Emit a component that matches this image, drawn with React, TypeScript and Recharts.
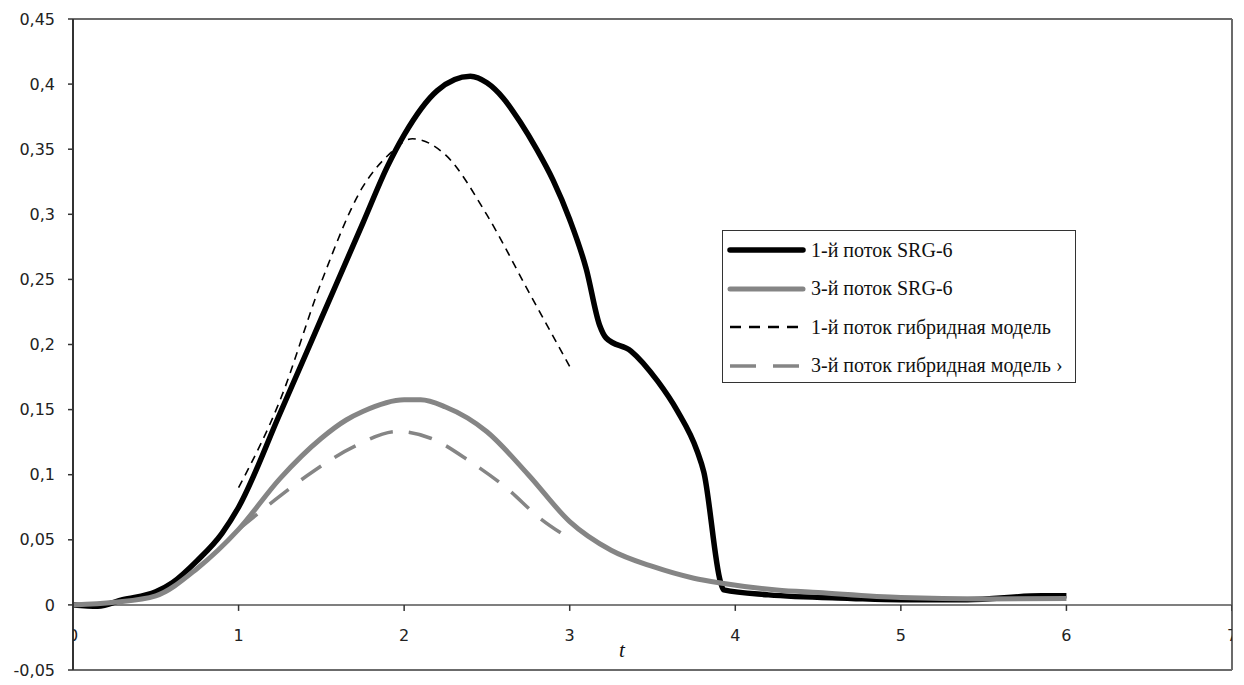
import React from "react";
import {
  ComposedChart,
  Line,
  XAxis,
  YAxis,
  ReferenceLine,
  Scatter,
} from "recharts";

// 1-й поток SRG-6
const tSRG1 = [0, 0.15, 0.3, 0.5, 0.6, 0.75, 0.9, 1.0, 1.25, 1.5, 1.75, 1.9, 2.0, 2.2, 2.4, 2.5, 2.6, 2.7, 2.8, 2.9, 3.0, 3.1, 3.18, 3.22, 3.37, 3.53, 3.65, 3.77, 3.81, 3.91, 3.93, 4.2, 4.7, 5.0, 5.4, 5.85, 6.0];
const vSRG1 = [0, -0.001, 0.004, 0.01, 0.017, 0.034, 0.055, 0.075, 0.147, 0.22, 0.293, 0.337, 0.361, 0.395, 0.406, 0.401, 0.389, 0.371, 0.35, 0.326, 0.296, 0.258, 0.215, 0.205, 0.195, 0.172, 0.149, 0.118, 0.102, 0.018, 0.0115, 0.0077, 0.005, 0.004, 0.004, 0.007, 0.007];

// 3-й поток SRG-6
const tSRG3 = [0, 0.25, 0.5, 0.75, 1.0, 1.25, 1.5, 1.65, 1.75, 2.0, 2.1, 2.25, 2.5, 2.75, 3.0, 3.25, 3.5, 3.75, 3.92, 4.25, 4.5, 5.0, 5.5, 6.0];
const vSRG3 = [0, 0.002, 0.007, 0.028, 0.058, 0.097, 0.128, 0.142, 0.1485, 0.1575, 0.1575, 0.152, 0.133, 0.1, 0.064, 0.042, 0.0295, 0.0205, 0.0167, 0.0115, 0.0095, 0.0057, 0.0046, 0.005];

// 1-й поток гибридная модель
const tHyb1 = [1.0, 1.25, 1.5, 1.75, 1.9, 2.05, 2.25, 2.5, 2.75, 3.0];
const vHyb1 = [0.09, 0.157, 0.248, 0.321, 0.345, 0.358, 0.3456, 0.2995, 0.241, 0.183];

// 3-й поток гибридная модель
const tHyb3 = [1.0, 1.22, 1.45, 1.7, 1.96, 2.16, 2.4, 2.62, 2.82, 3.0];
const vHyb3 = [0.058, 0.0806, 0.1025, 0.1217, 0.1332, 0.128, 0.11, 0.0896, 0.0666, 0.051];

const xTicks = [0, 1, 2, 3, 4, 5, 6, 7];
const yTicks = [-0.05, 0, 0.05, 0.1, 0.15, 0.2, 0.25, 0.3, 0.35, 0.4, 0.45];

const seriesNames = [
  "1-й поток SRG-6",
  "3-й поток SRG-6",
  "1-й поток гибридная модель",
  "3-й поток гибридная модель ›",
];
const seriesColors = ["#000000", "#858585", "#000000", "#858585"];
const seriesWidths = [5.5, 5, 1.6, 3.5];
const seriesDash = [undefined, undefined, "8 6", "24 16"];
const legendDash = [undefined, undefined, "11 8", "26 17"];

const toPts = (ts: number[], vs: number[]) => ts.map((t, i) => ({ t, v: vs[i] }));
const tickData = xTicks.map((t) => ({ t, v: 0 }));

const fmt = (v: number) => (v === 0 ? "0" : String(+v.toFixed(2)).replace(".", ","));

const AXIS_FONT = "'DejaVu Sans', Verdana, sans-serif";
const SERIF = "'Liberation Serif', 'Times New Roman', serif";

const XTickShape = (props: any) => {
  const { cx, cy, payload } = props;
  return (
    <g>
      <line x1={cx} x2={cx} y1={cy} y2={cy + 6} stroke="#333" strokeWidth={1.5} />
      <text
        x={cx}
        y={cy + 32}
        textAnchor="middle"
        dominantBaseline="middle"
        fontSize={16}
        fontFamily={AXIS_FONT}
        fill="#222"
      >
        {payload.t}
      </text>
    </g>
  );
};

const LegendBox = () => (
  <div
    style={{
      position: "absolute",
      left: 714,
      top: 222,
      border: "1.5px solid #333",
      background: "#fff",
      height: 153,
      boxSizing: "border-box",
      fontFamily: SERIF,
      fontSize: 20,
      color: "#111",
      paddingTop: 0,
      paddingRight: 12,
    }}
  >
    {seriesNames.map((n, i) => (
      <div key={n} style={{ display: "flex", alignItems: "center", height: 38.5 }}>
        <svg width={84} height={10} style={{ marginLeft: 4, flexShrink: 0 }}>
          <line
            x1={3}
            x2={76}
            y1={5}
            y2={5}
            stroke={seriesColors[i]}
            strokeWidth={i === 2 ? 2.5 : seriesWidths[i]}
            strokeDasharray={legendDash[i]}
            strokeLinecap={i < 2 ? "round" : "butt"}
          />
        </svg>
        <span style={{ whiteSpace: "nowrap" }}>{n}</span>
      </div>
    ))}
  </div>
);

export default function App() {
  return (
    <div style={{ position: "relative", width: 1236, height: 677 }}>
      <ComposedChart
        width={1236}
        height={677}
        margin={{ top: 11, right: 12, bottom: 15, left: 0 }}
      >
        <XAxis
          type="number"
          dataKey="t"
          domain={[0, 7]}
          ticks={xTicks}
          hide
          allowDataOverflow
        />
        <YAxis
          type="number"
          dataKey="v"
          domain={[-0.05, 0.45]}
          ticks={yTicks}
          width={65}
          allowDataOverflow
          tickFormatter={fmt}
          axisLine={{ stroke: "#333", strokeWidth: 2 }}
          tickLine={{ stroke: "#333", strokeWidth: 1.5 }}
          tickSize={5}
          tickMargin={13}
          tick={{ fill: "#222", fontSize: 16, fontFamily: AXIS_FONT }}
          interval={0}
        />
        <ReferenceLine y={0.45} stroke="#6b6b6b" strokeWidth={2} ifOverflow="visible" />
        <ReferenceLine y={-0.05} stroke="#6b6b6b" strokeWidth={2} ifOverflow="visible" />
        <ReferenceLine x={7} stroke="#6b6b6b" strokeWidth={2} ifOverflow="visible" />
        <ReferenceLine y={0} stroke="#555" strokeWidth={1.5} ifOverflow="visible" />
        <Scatter
          data={tickData}
          dataKey="v"
          shape={<XTickShape />}
          isAnimationActive={false}
          legendType="none"
        />
        <Line
          data={toPts(tSRG1, vSRG1)}
          dataKey="v"
          name={seriesNames[0]}
          type="monotone"
          stroke={seriesColors[0]}
          strokeWidth={seriesWidths[0]}
          dot={false}
          isAnimationActive={false}
        />
        <Line
          data={toPts(tSRG3, vSRG3)}
          dataKey="v"
          name={seriesNames[1]}
          type="monotone"
          stroke={seriesColors[1]}
          strokeWidth={seriesWidths[1]}
          dot={false}
          isAnimationActive={false}
        />
        <Line
          data={toPts(tHyb1, vHyb1)}
          dataKey="v"
          name={seriesNames[2]}
          type="monotone"
          stroke={seriesColors[2]}
          strokeWidth={seriesWidths[2]}
          strokeDasharray={seriesDash[2]}
          dot={false}
          isAnimationActive={false}
        />
        <Line
          data={toPts(tHyb3, vHyb3)}
          dataKey="v"
          name={seriesNames[3]}
          type="monotone"
          stroke={seriesColors[3]}
          strokeWidth={seriesWidths[3]}
          strokeDasharray={seriesDash[3]}
          dot={false}
          isAnimationActive={false}
        />
      </ComposedChart>
      <LegendBox />
      <div
        style={{
          position: "absolute",
          left: 611,
          top: 630,
          fontFamily: SERIF,
          fontStyle: "italic",
          fontSize: 21,
          color: "#111",
        }}
      >
        t
      </div>
    </div>
  );
}
